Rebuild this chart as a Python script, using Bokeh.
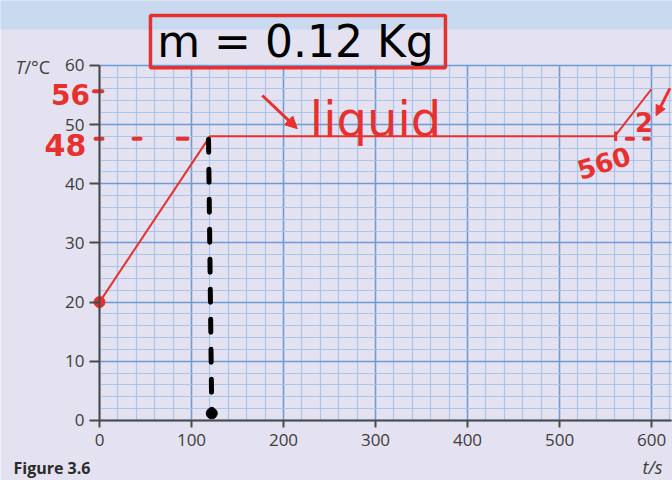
from bokeh.plotting import figure
from bokeh.models import Label, BoxAnnotation, Arrow, NormalHead, FixedTicker, Range1d
from bokeh.embed import file_html
from bokeh.resources import INLINE

# ---- data ----
time_s = [0, 120, 560, 600]
temp_c = [20, 48, 48, 56]
start_time = [0]
start_temp = [20]
melt_end_time = [118.5, 122]
melt_end_temp = [47.5, 1.5]
dash48_x0 = [-4.3, 37, 85, 573, 592]
dash48_x1 = [3.3, 44.6, 95.6, 580, 597]
dash48_y = [47.6, 47.6, 47.6, 47.6, 47.6]
x_major = [0, 100, 200, 300, 400, 500, 600]
x_minor = list(range(0, 621, 20))
y_major = [0, 10, 20, 30, 40, 50, 60]
y_minor = list(range(0, 61, 2))
x_max = 622
y_max = 60

RED = "#e8312f"
BG = "#e4e1f0"
BAND = "#c9d9f0"
FONT = "Open Sans"
HAND = "DejaVu Sans"
INK = "#3d3d3d"

# frame covers the whole canvas; axes are pinned at the data origin
p = figure(width=672, height=480, output_backend="svg", toolbar_location=None,
           x_range=Range1d(-107.6, 622.8), y_range=Range1d(-10.14, 70.95),
           min_border=0)
p.background_fill_color = BG
p.border_fill_color = BG
p.outline_line_color = None

xt = FixedTicker(ticks=x_major, minor_ticks=x_minor)
yt = FixedTicker(ticks=y_major, minor_ticks=y_minor)
p.xaxis.ticker = xt
p.yaxis.ticker = yt
p.xgrid.ticker = xt
p.ygrid.ticker = yt
p.xaxis.fixed_location = 0
p.yaxis.fixed_location = 0
p.xaxis.bounds = (0, x_max)
p.yaxis.bounds = (0, y_max)
p.xgrid.bounds = (0, x_max)
p.ygrid.bounds = (0, y_max)
p.xgrid.cross_bounds = (0, y_max)
p.ygrid.cross_bounds = (0, x_max)
for g in (p.xgrid, p.ygrid):
    g.grid_line_color = "#6d9bd6"
    g.grid_line_width = 1.5
    g.minor_grid_line_color = "#a9c5ea"
    g.minor_grid_line_width = 1.2

for ax in (p.xaxis, p.yaxis):
    ax.axis_line_color = "#4a4a4a"
    ax.axis_line_width = 2
    ax.major_tick_line_color = "#4a4a4a"
    ax.major_tick_line_width = 2
    ax.major_tick_in = 0
    ax.minor_tick_line_color = None
    ax.major_label_text_font = FONT
    ax.major_label_text_font_size = "17px"
    ax.major_label_text_color = INK
p.xaxis.major_tick_out = 7
p.yaxis.major_tick_out = 10
p.xaxis.major_label_standoff = 7
p.yaxis.major_label_standoff = 5

# top band
p.add_layout(BoxAnnotation(left=-120, right=700, top=72, bottom=66.05,
                           fill_color=BAND, fill_alpha=1, line_color=None, level="underlay"))

# curve
p.line(time_s, temp_c, line_color=RED, line_width=2)
p.scatter(start_time, start_temp, size=11, color=RED)

# black dashed vertical
p.line(melt_end_time, melt_end_temp, line_color="black", line_width=5,
       line_dash="13 17", line_cap="round")
p.scatter([melt_end_time[-1]], [1.2], size=11, color="black")

# red dashes at 48 / 56
p.segment(dash48_x0, dash48_y, dash48_x1, dash48_y, line_color=RED, line_width=4, line_cap="round")
p.segment([561], [47.2], [561], [48.8], line_color=RED, line_width=3)
p.segment([-6], [55.6], [3], [55.6], line_color=RED, line_width=4, line_cap="round")

# axis titles
p.add_layout(Label(x=-91.3, y=59.8, text="T", text_font=FONT, text_font_style="italic",
                   text_font_size="18px", text_color=INK, text_baseline="middle"))
p.add_layout(Label(x=-81.5, y=59.8, text="/°C", text_font=FONT,
                   text_font_size="18px", text_color=INK, text_baseline="middle"))
p.add_layout(Label(x=612, y=-7.8, text="t/s", text_font=FONT, text_font_style="italic",
                   text_font_size="18px", text_color=INK, text_baseline="middle",
                   text_align="right"))
p.add_layout(Label(x=-93.5, y=-9.95, text="Figure 3.6", text_font=FONT, text_font_style="bold",
                   text_font_size="16px", text_color="#2a2a2a", text_baseline="bottom"))

# handwritten annotations
p.add_layout(BoxAnnotation(left=55.4, right=376, top=68.4, bottom=59.6,
                           fill_alpha=0, line_color=RED, line_alpha=1, line_width=3.5))
p.add_layout(Label(x=213, y=64.0, text="m = 0.12 Kg", text_font=HAND,
                   text_font_size="44px", text_color="black", text_align="center",
                   text_baseline="middle"))
p.add_layout(Label(x=300, y=51.0, text="liquid", text_font=HAND,
                   text_font_size="48px", text_color=RED, text_align="center",
                   text_baseline="middle"))
p.add_layout(Arrow(x_start=177, y_start=54.9, x_end=215, y_end=49.3,
                   line_color=RED, line_width=3,
                   end=NormalHead(size=12, fill_color=RED, line_color=RED)))
p.add_layout(Label(x=-31.5, y=55.1, text="56", text_font=HAND, text_font_style="bold",
                   text_font_size="28px", text_color=RED, text_align="center",
                   text_baseline="middle"))
p.add_layout(Label(x=-37, y=46.5, text="48", text_font=HAND, text_font_style="bold",
                   text_font_size="30px", text_color=RED, text_align="center",
                   text_baseline="middle"))
p.add_layout(Label(x=548, y=43.6, text="560", text_font=HAND, text_font_style="bold",
                   text_font_size="26px", text_color=RED, text_align="center",
                   text_baseline="middle", angle=0.3))
p.add_layout(Label(x=592, y=50.5, text="2", text_font=HAND, text_font_style="bold",
                   text_font_size="26px", text_color=RED, text_align="center",
                   text_baseline="middle"))
p.add_layout(Arrow(x_start=620, y_start=56.1, x_end=605, y_end=51.5,
                   line_color=RED, line_width=3,
                   end=NormalHead(size=10, fill_color=RED, line_color=RED)))

open("out.html", "w").write(file_html(p, INLINE))
